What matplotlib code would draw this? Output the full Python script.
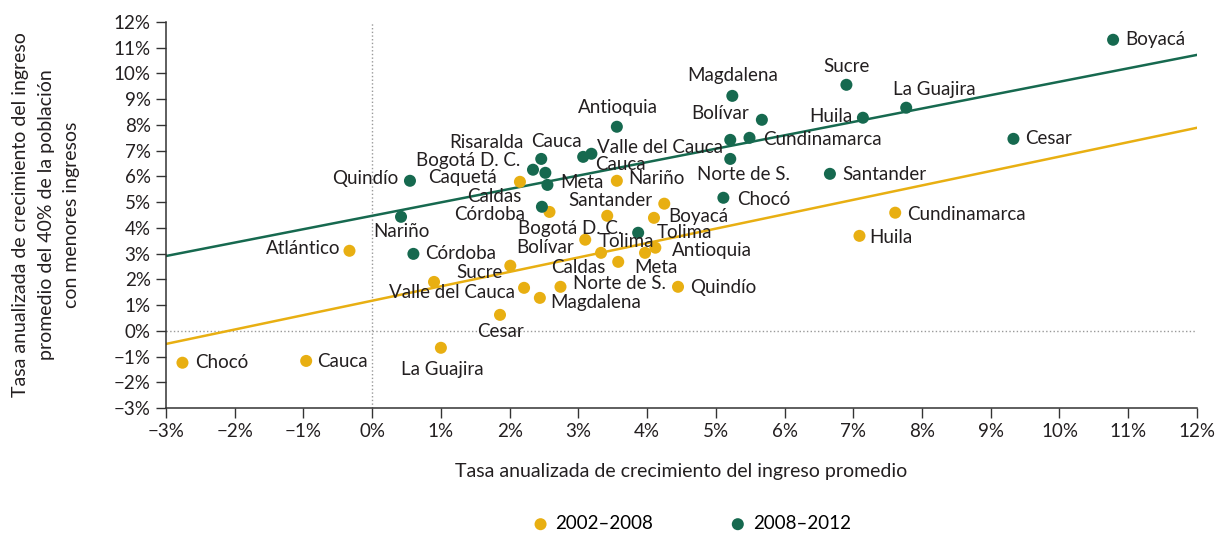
import matplotlib.pyplot as plt
from matplotlib.ticker import FuncFormatter, MultipleLocator

plt.rcParams['font.family'] = ['Lato', 'DejaVu Sans']

# 2002-2008 (yellow)
names_0208 = ['Chocó', 'Cauca', 'Atlántico', 'La Guajira', 'Cesar', '', 'Valle del Cauca',
              'Sucre', 'Magdalena', 'Norte de S.', 'Caldas', 'Bolívar', 'Tolima', 'Bogotá D. C.',
              'Santander', 'Boyacá', 'Antioquia', 'Meta', 'Quindío', 'Nariño', 'Caquetá',
              'Córdoba', 'Cundinamarca', 'Huila']
x_0208 = [-2.76, -0.96, -0.33, 1.00, 1.86, 0.90, 2.21, 2.01, 2.44, 2.74, 3.58, 3.10, 3.33, 3.42,
          4.25, 4.10, 4.12, 3.97, 4.45, 3.56, 2.15, 2.58, 7.61, 7.09]
y_0208 = [-1.24, -1.17, 3.11, -0.66, 0.62, 1.90, 1.67, 2.53, 1.28, 1.71, 2.68, 3.54, 3.03, 4.47,
          4.94, 4.39, 3.23, 3.03, 1.71, 5.83, 5.79, 4.62, 4.59, 3.69]

# 2008-2012 (green)
names_0812 = ['Boyacá', 'Sucre', 'Magdalena', 'La Guajira', 'Huila', 'Bolívar', 'Antioquia',
              'Cundinamarca', 'Cesar', 'Valle del Cauca', 'Risaralda', 'Cauca', 'Bogotá D. C.',
              'Cauca', '', 'Quindío', 'Meta', 'Norte de S.', 'Santander', 'Caldas', 'Chocó',
              'Nariño', 'Córdoba', 'Tolima']
x_0812 = [10.78, 6.90, 5.24, 7.77, 7.14, 5.67, 3.56, 5.49, 9.33, 5.21, 2.46, 3.07, 2.34, 3.19,
          2.52, 0.55, 2.55, 5.21, 6.66, 2.47, 5.11, 0.42, 0.60, 3.87]
y_0812 = [11.31, 9.56, 9.13, 8.67, 8.28, 8.20, 7.93, 7.50, 7.46, 7.42, 6.68, 6.76, 6.26, 6.88,
          6.14, 5.83, 5.67, 6.68, 6.10, 4.82, 5.17, 4.43, 2.99, 3.81]

# trend lines (slope, intercept)
trend_0208 = (0.56, 1.17)
trend_0812 = (0.521, 4.47)

x_range = [-3, 12]

# label placement (dx, dy in pixels, ha)
lab_0208 = [(13, 0, 'left'), (11, -1, 'left'), (-9, 2, 'right'), (1, -22, 'center'),
            (0, -17, 'center'), (0, 0, 'left'), (-9, -5, 'right'), (-8, -7, 'right'),
            (10, -5, 'left'), (13, 3, 'left'), (-13, -6, 'right'), (-11, -8, 'right'),
            (-2, 11, 'left'), (15, -13, 'right'), (-12, 3, 'right'), (14, 1, 'left'),
            (17, -3, 'left'), (11, -15, 'center'), (12, -1, 'left'), (11, 2, 'left'),
            (-23, 4, 'right'), (-24, -3, 'right'), (12, -2, 'left'), (10, -2, 'left')]
lab_0812 = [(12, 0, 'left'), (0, 18, 'center'), (0, 20, 'center'), (28, 18, 'center'),
            (-10, 1, 'right'), (-13, 6, 'right'), (1, 19, 'center'), (14, -2, 'left'),
            (12, 0, 'left'), (-7, -8, 'right'), (-18, 16, 'right'), (-1, 15, 'right'),
            (-13, 9, 'right'), (4, -11, 'left'), (0, 0, 'left'), (-12, 2, 'right'),
            (13, 2, 'left'), (13, -16, 'center'), (12, -1, 'left'), (-20, 10, 'right'),
            (14, -2, 'left'), (0, -15, 'center'), (12, 0, 'left'), (19, 0, 'left')]

yellow = '#e8af12'
green = '#16694f'
txt = '#231f20'
fs = 13.5

fig = plt.figure(figsize=(12.23, 5.33), dpi=100)
ax = fig.add_axes([0.1357, 0.2345, 0.843, 0.7242])

ax.axhline(0, color='#999999', lw=1, ls=':', zorder=1)
ax.axvline(0, color='#999999', lw=1, ls=':', zorder=1)

for (m, b), col in [(trend_0208, yellow), (trend_0812, green)]:
    ax.plot(x_range, [m * x_range[0] + b, m * x_range[1] + b], color=col, lw=1.8, zorder=2)

ax.scatter(x_0208, y_0208, s=75, color=yellow, zorder=3, label='2002–2008', edgecolors='none')
ax.scatter(x_0812, y_0812, s=75, color=green, zorder=3, label='2008–2012', edgecolors='none')

for names, xs, ys, labs in [(names_0208, x_0208, y_0208, lab_0208),
                            (names_0812, x_0812, y_0812, lab_0812)]:
    for n, x, y, (dx, dy, ha) in zip(names, xs, ys, labs):
        if n:
            ax.annotate(n, (x, y), xytext=(dx, dy), textcoords='offset pixels',
                        ha=ha, va='center', fontsize=fs, color=txt, zorder=4)

ax.set_xlim(-3, 12)
ax.set_ylim(-3, 12)
ax.xaxis.set_major_locator(MultipleLocator(1))
ax.yaxis.set_major_locator(MultipleLocator(1))
pct = FuncFormatter(lambda v, p: f'{int(round(v))}%'.replace('-', '\u2212'))
ax.xaxis.set_major_formatter(pct)
ax.yaxis.set_major_formatter(pct)
ax.tick_params(direction='out', length=7, width=1, colors='#333333', labelsize=fs,
               labelcolor=txt, pad=4)
for s in ['top', 'right']:
    ax.spines[s].set_visible(False)
for s in ['left', 'bottom']:
    ax.spines[s].set_color('#333333')
    ax.spines[s].set_linewidth(1.1)

ax.set_xlabel('Tasa anualizada de crecimiento del ingreso promedio', fontsize=14,
              color=txt, labelpad=16)
ax.set_ylabel('Tasa anualizada de crecimiento del ingreso\npromedio del 40% de la población\ncon menores ingresos',
              fontsize=14, color=txt, labelpad=24, linespacing=1.6)

fig.legend(loc='lower center', ncol=2, frameon=False, fontsize=fs, handletextpad=0.3,
           handlelength=1.0, columnspacing=4.0, bbox_to_anchor=(0.565, -0.03))

plt.savefig('out.png', dpi=100)
plt.close()
